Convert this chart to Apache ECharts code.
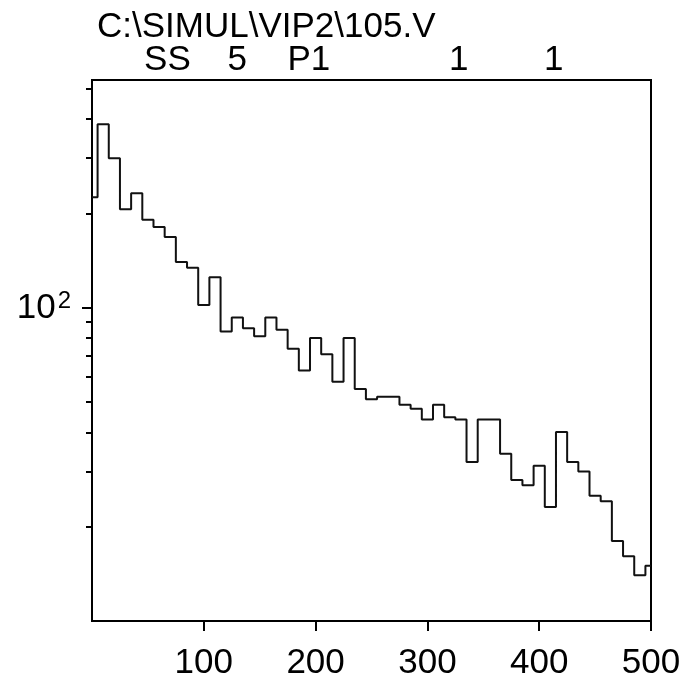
<!DOCTYPE html>
<html>
<head>
<meta charset="utf-8">
<script src="https://cdn.jsdelivr.net/npm/echarts@6/dist/echarts.min.js"></script>
<style>html,body{margin:0;padding:0;background:#fff;}#c{width:691px;height:682px;}</style>
</head>
<body>
<div id="c"></div>
<script>
var titleText = 'C:\\SIMUL\\VIP2\\105.V';
var binCenters = [0,10,20,30,40,50,60,70,80,90,100,110,120,130,140,150,160,170,180,190,200,210,220,230,240,250,260,270,280,290,300,310,320,330,340,350,360,370,380,390,400,410,420,430,440,450,460,470,480,490,500];
var counts = [225,385,300,206,232,191,181,168,140,134,102,125,84,93,86,81,93,85,74,63,80,71,58,80,55,51,52,52,49,47.6,44,49,44.7,44,32.2,44,44,34.2,28.2,27.1,31.3,23.1,40.1,32.2,30.0,25.1,24.1,18.0,16.1,14.0,15.0];
var xTickValues = [100,200,300,400,500];
var yMajorTicks = [100];
var yMinorTicks = [20,30,40,50,60,70,80,90,200,300,400,500];
var peakLabels = ['SS','5','P1','1','1'];
var peakPositions = [67.5,130,194,328,413];

var FONT = "'Liberation Sans', Arial, sans-serif";
var data = binCenters.map(function(x,i){ return [x, counts[i]]; });

var chart = echarts.init(document.getElementById('c'));
chart.setOption({
  animation: false,
  backgroundColor: '#fff',
  title: {
    text: titleText, left: 92, top: 5,
    textStyle: {fontFamily: FONT, fontSize: 35, fontWeight: 'normal', color: '#000'}
  },
  grid: {left: 92, right: 40, top: 80, bottom: 61, show: true, borderColor: '#000', borderWidth: 2, backgroundColor: 'transparent'},
  xAxis: [{
    type: 'value', min: 0, max: 500, position: 'bottom',
    axisLine: {show: true, lineStyle: {color: '#000', width: 2}},
    axisTick: {show: true, length: 10, inside: false, customValues: xTickValues, lineStyle: {color: '#000', width: 2}},
    axisLabel: {show: true, customValues: xTickValues, margin: 25, fontFamily: FONT, fontSize: 35, color: '#000'},
    splitLine: {show: false}
  }, {
    type: 'value', min: 0, max: 500, position: 'top',
    axisLine: {show: false}, axisTick: {show: false},
    axisLabel: {show: true, customValues: peakPositions, margin: 2, fontFamily: FONT, fontSize: 35, color: '#000',
      formatter: function(v){ var i = peakPositions.indexOf(v); return i >= 0 ? peakLabels[i] : ''; }},
    splitLine: {show: false}
  }],
  yAxis: [{
    type: 'log', logBase: 10, min: 10, max: 533, position: 'left',
    axisLine: {show: true, lineStyle: {color: '#000', width: 2}},
    axisTick: {show: true, length: 10, customValues: yMajorTicks, lineStyle: {color: '#000', width: 2}},
    axisLabel: {show: true, customValues: yMajorTicks, margin: 21, fontFamily: FONT, fontSize: 35, color: '#000',
      formatter: function(v){ return '{a|10}{b|2}'; },
      rich: {
        a: {fontFamily: FONT, fontSize: 35, color: '#000', verticalAlign: 'bottom'},
        b: {fontFamily: FONT, fontSize: 24, color: '#000', verticalAlign: 'bottom', padding: [0, 0, 13, 2]}
      }},
    splitLine: {show: false}, minorTick: {show: false}
  }, {
    type: 'log', logBase: 10, min: 10, max: 533, position: 'left',
    axisLine: {show: false},
    axisTick: {show: true, length: 6, customValues: yMinorTicks, lineStyle: {color: '#000', width: 2}},
    axisLabel: {show: false},
    splitLine: {show: false}
  }],
  series: [{
    type: 'line', step: 'middle', xAxisIndex: 0, yAxisIndex: 0,
    data: data, symbol: 'none',
    lineStyle: {color: '#111', width: 2}
  }]
});
</script>
</body>
</html>
